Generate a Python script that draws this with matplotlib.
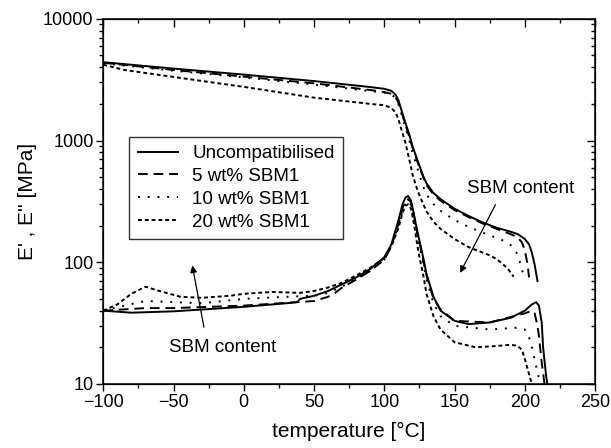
import numpy as np
import matplotlib
matplotlib.use('Agg')
import matplotlib.pyplot as plt
from matplotlib.ticker import MultipleLocator, LogLocator, FixedFormatter, FixedLocator, NullFormatter

plt.rcParams['font.family'] = ['Liberation Sans', 'DejaVu Sans']

labels = ['Uncompatibilised', '5 wt% SBM1', '10 wt% SBM1', '20 wt% SBM1']

# storage modulus E' [MPa]
t_e1_0 = [-100, -50, 0, 50, 90, 100, 105, 108, 110, 112, 115, 118, 120, 123, 125, 128, 130, 135, 140,
          150, 160, 170, 180, 190, 195, 200, 203, 205, 207, 209]
e1_0 = [4400, 3900, 3480, 3080, 2750, 2660, 2560, 2380, 2150, 1800, 1400, 1100, 900, 720, 620, 500, 445,
        370, 330, 275, 240, 212, 192, 178, 170, 155, 140, 120, 95, 70]
t_e1_5 = [-100, -50, 0, 50, 90, 100, 105, 108, 110, 112, 115, 118, 120, 123, 125, 128, 130, 135, 140,
          150, 160, 170, 180, 190, 195, 198, 200, 202, 203]
e1_5 = [4350, 3800, 3350, 2950, 2600, 2500, 2420, 2260, 2050, 1750, 1350, 1050, 880, 700, 600, 490, 430,
        360, 320, 268, 235, 208, 188, 170, 160, 145, 125, 95, 75]
t_e1_10 = [-100, -50, 0, 50, 90, 100, 105, 108, 110, 112, 115, 118, 120, 123, 125, 128, 130, 135, 140,
           150, 160, 170, 180, 185, 190, 194, 196, 198, 199]
e1_10 = [4300, 3750, 3300, 2880, 2550, 2470, 2400, 2230, 2000, 1680, 1280, 980, 800, 620, 520, 410, 360,
         300, 265, 222, 195, 175, 158, 150, 138, 120, 105, 88, 76]
t_e1_20 = [-100, -85, -50, 0, 50, 90, 100, 105, 108, 110, 112, 115, 118, 120, 123, 125, 128, 130, 135, 140,
           150, 160, 170, 175, 180, 185, 188, 190, 192]
e1_20 = [4200, 3800, 3330, 2760, 2250, 2000, 1950, 1850, 1700, 1500, 1250, 960, 680, 530, 410, 355, 295, 262,
         215, 188, 155, 133, 120, 114, 106, 95, 88, 82, 76]

# loss modulus E'' [MPa]
t_e2_0 = [-100, -80, -50, 0, 30, 38, 40, 50, 60, 70, 80, 90, 100, 105, 110, 113, 115, 117, 119, 121, 123,
          125, 128, 130, 135, 140, 150, 160, 175, 190, 200, 205, 208, 210, 212, 213, 215, 216]
e2_0 = [40, 38.5, 39.5, 43, 46, 47, 50, 53, 58, 66, 75, 88, 110, 140, 220, 300, 340, 350, 320, 250, 190,
        150, 105, 80, 52, 40, 33, 31, 32, 35, 40, 45, 47, 44, 32, 20, 12, 10]
t_e2_5 = [-100, -85, -70, -50, 0, 50, 60, 65, 70, 80, 90, 100, 105, 110, 113, 115, 117, 119, 121, 123,
          125, 128, 130, 135, 140, 150, 175, 200, 205, 207, 209, 210, 212, 214]
e2_5 = [40, 41, 42, 42, 44, 48, 52, 56, 62, 72, 85, 105, 135, 205, 280, 315, 330, 310, 245, 185,
        145, 100, 78, 50, 41, 33, 32, 38, 40, 38, 30, 25, 15, 10]
t_e2_10 = [-100, -85, -70, -50, -30, 0, 30, 50, 60, 70, 80, 90, 100, 105, 110, 113, 115, 117, 119, 121,
           123, 125, 128, 130, 135, 140, 150, 175, 195, 200, 203, 205, 208, 211]
e2_10 = [40, 44, 48, 47, 46, 50, 52, 53, 56, 63, 73, 85, 105, 135, 200, 270, 300, 320, 295, 230,
         175, 135, 95, 72, 46, 36, 30, 28, 29, 28, 24, 20, 14, 10]
t_e2_20 = [-100, -90, -80, -70, -60, -45, -30, -10, 0, 20, 40, 50, 60, 70, 80, 90, 100, 105, 110, 113,
           115, 117, 119, 121, 123, 125, 128, 130, 135, 140, 150, 165, 180, 190, 195, 198, 200, 203, 205]
e2_20 = [40, 45, 55, 63, 58, 52, 51, 53, 55, 57, 56, 58, 62, 68, 78, 90, 108, 135, 190, 255,
         290, 300, 275, 210, 150, 110, 75, 55, 36, 28, 22, 20, 20.5, 21, 20.5, 19, 16, 12, 10]

styles = ['-', (0, (5, 3)), (0, (1, 4)), (0, (2, 1.5))]
e1_t = [t_e1_0, t_e1_5, t_e1_10, t_e1_20]
e1_v = [e1_0, e1_5, e1_10, e1_20]
e2_t = [t_e2_0, t_e2_5, t_e2_10, t_e2_20]
e2_v = [e2_0, e2_5, e2_10, e2_20]

fig = plt.figure(figsize=(6.11, 4.48), dpi=100)
ax = fig.add_axes([0.169, 0.143, 0.805, 0.815])

for i in range(4):
    ax.plot(e1_t[i], e1_v[i], color='black', ls=styles[i], lw=1.4, label=labels[i])
    ax.plot(e2_t[i], e2_v[i], color='black', ls=styles[i], lw=1.4)

ax.set_yscale('log')
ax.set_xlim(-100, 250)
ax.set_ylim(10, 10000)


def set_ticks(a):
    a.xaxis.set_major_locator(MultipleLocator(50))
    a.xaxis.set_minor_locator(MultipleLocator(25))
    a.yaxis.set_major_locator(FixedLocator([10, 100, 1000, 10000]))
    a.yaxis.set_minor_locator(LogLocator(base=10, subs=np.arange(2, 10)))
    a.yaxis.set_minor_formatter(NullFormatter())


set_ticks(ax)
ax.yaxis.set_major_formatter(FixedFormatter(['10', '100', '1000', '10000']))
ax.tick_params(which='both', direction='out', labelsize=13, width=1)
ax.tick_params(which='major', length=5)
ax.tick_params(which='minor', length=3)
ax.tick_params(axis='x', pad=2)
ax.tick_params(axis='y', pad=2)

# inward ticks on top and right
tx = ax.twiny()
tx.set_xlim(ax.get_xlim())
ty = ax.twinx()
ty.set_yscale('log')
ty.set_ylim(ax.get_ylim())
for a in (tx, ty):
    set_ticks(a)
    a.tick_params(which='both', direction='in', width=1, labeltop=False, labelright=False,
                  labelbottom=False, labelleft=False)
    a.tick_params(which='major', length=6)
    a.tick_params(which='minor', length=3)

for s in ax.spines.values():
    s.set_linewidth(1.1)

ax.set_xlabel('temperature [°C]', fontsize=15, labelpad=8)
ax.set_ylabel("E' , E'' [MPa]", fontsize=15, labelpad=4)

leg = ax.legend(loc='upper left', bbox_to_anchor=(0.053, 0.677), borderaxespad=0, fontsize=13.5,
                frameon=True, fancybox=False, edgecolor='black', handlelength=2.15, handletextpad=0.75,
                borderpad=0.45, labelspacing=0.3)
leg.get_frame().set_linewidth(1.0)

arrow = dict(arrowstyle='-|>', color='black', lw=0.9, mutation_scale=10)
ax.annotate('', xy=(153, 78), xytext=(180, 311), arrowprops=arrow)
ax.text(197, 400, 'SBM content', fontsize=13.5, ha='center', va='center')
ax.annotate('', xy=(-37, 99), xytext=(-28, 27.8), arrowprops=arrow)
ax.text(-15, 20, 'SBM content', fontsize=13.5, ha='center', va='center')

fig.savefig('out.png', dpi=100)
